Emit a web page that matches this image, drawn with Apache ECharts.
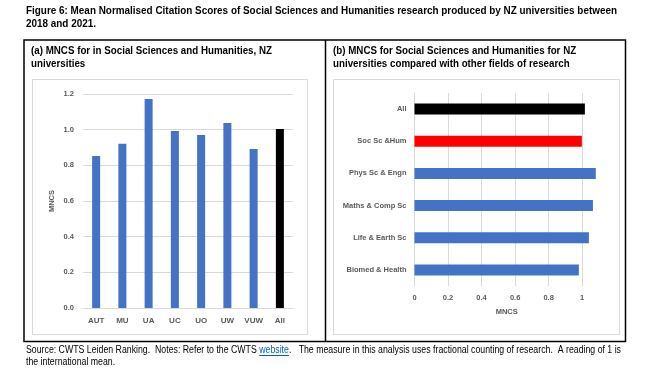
<!DOCTYPE html>
<html><head><meta charset="utf-8">
<script src="https://cdn.jsdelivr.net/npm/echarts@6/dist/echarts.min.js"></script>
<style>html,body{margin:0;padding:0;background:#fff}#c{width:672px;height:378px}</style>
</head><body><div id="c"></div>
<script>
const uniCats = ['AUT', 'MU', 'UA', 'UC', 'UO', 'UW', 'VUW', 'All'];
const uniValues = [0.852, 0.921, 1.172, 0.993, 0.970, 1.037, 0.892, 1.004];
const fieldCats = ['Biomed & Health', 'Life & Earth Sc', 'Maths & Comp Sc', 'Phys Sc & Engn', 'Soc Sc &Hum', 'All'];
const fieldValues = [0.980, 1.040, 1.064, 1.081, 0.998, 1.016];
const titleLines = ['Figure 6: Mean Normalised Citation Scores of Social Sciences and Humanities research produced by NZ universities between', '2018 and 2021.'];
const panelATitle = ['(a) MNCS for in Social Sciences and Humanities, NZ', 'universities'];
const panelBTitle = ['(b) MNCS for Social Sciences and Humanities for NZ', 'universities compared with other fields of research'];
const footer1 = 'Source: CWTS Leiden Ranking.  Notes: Refer to the CWTS ';
const footerLink = 'website';
const footer2 = '.   The measure in this analysis uses fractional counting of research.  A reading of 1 is';
const footer3 = 'the international mean.';

const BLUE = '#4472C4', RED = '#FF0000', BLACK = '#000000';
const SANS = '"Liberation Sans", Arial, sans-serif';
const GRID = '#D9D9D9', LAB = '#595959';

const uniColors = uniCats.map(c => c === 'All' ? BLACK : BLUE);
const fieldColors = fieldCats.map(c => c === 'All' ? BLACK : (c.indexOf('Soc') === 0 ? RED : BLUE));

const ctx = document.createElement('canvas').getContext('2d');
function measure(t, size, weight) {
  ctx.font = (weight || 'normal') + ' ' + size + 'px ' + SANS; return ctx.measureText(t).width;
}
// horizontal compression factors to mimic the condensed font of the original
const sTitle = 591 / measure(titleLines[0], 11, 'bold');
const sPanel = 241 / measure(panelATitle[0], 11, 'bold');
const sFoot = 595 / measure(footer1 + footerLink + footer2, 10, 'normal');
const w1 = measure(footer1, 10) * sFoot, wl = measure(footerLink, 10) * sFoot;

function txt(x, y, s, size, weight, sx, color) {
  return { type: 'text', x: x, y: y, scaleX: sx, silent: true,
    style: { text: s, fontSize: size, fontWeight: weight || 'normal', fontFamily: SANS,
      fill: color || '#000', textVerticalAlign: 'middle', textAlign: 'left' } };
}

const chart = echarts.init(document.getElementById('c'), null, { renderer: 'canvas' });
chart.setOption({
  animation: false,
  backgroundColor: '#fff',
  grid: [
    { left: 83, right: 672 - 293, top: 94, bottom: 378 - 308 },
    { left: 414.5, right: 672 - (414.5 + 1.1 * 167.7), top: 93, bottom: 378 - 286 }
  ],
  xAxis: [
    { gridIndex: 0, type: 'category', data: uniCats,
      axisLine: { lineStyle: { color: GRID } }, axisTick: { show: false },
      axisLabel: { color: LAB, fontSize: 8, fontWeight: 'bold', fontFamily: SANS, margin: 9 } },
    { gridIndex: 1, type: 'value', min: 0, max: 1.1, interval: 0.2,
      name: 'MNCS', nameLocation: 'middle', nameGap: 22,
      nameTextStyle: { color: LAB, fontSize: 7.5, fontWeight: 'bold', fontFamily: SANS },
      axisLine: { show: false }, axisTick: { show: false },
      splitLine: { show: true, showMaxLine: false, lineStyle: { color: GRID } },
      axisLabel: { color: LAB, fontSize: 7.5, fontWeight: 'bold', fontFamily: SANS, margin: 8,
        showMaxLabel: false, formatter: v => (v > 1.05 ? '' : String(Math.round(v * 10) / 10)) } }
  ],
  yAxis: [
    { gridIndex: 0, type: 'value', min: 0, max: 1.2, interval: 0.2,
      name: 'MNCS', nameLocation: 'middle', nameGap: 27, nameRotate: 90,
      nameTextStyle: { color: LAB, fontSize: 7.5, fontWeight: 'bold', fontFamily: SANS },
      axisLine: { show: false }, axisTick: { show: false },
      splitLine: { lineStyle: { color: GRID } },
      axisLabel: { color: LAB, fontSize: 7.5, fontWeight: 'bold', fontFamily: SANS, margin: 9,
        formatter: v => v.toFixed(1) } },
    { gridIndex: 1, type: 'category', data: fieldCats,
      axisLine: { show: true, lineStyle: { color: GRID } }, axisTick: { show: false },
      axisLabel: { color: LAB, fontSize: 7.5, fontWeight: 'bold', fontFamily: SANS, margin: 8 } }
  ],
  series: [
    { type: 'bar', xAxisIndex: 0, yAxisIndex: 0, barWidth: 8,
      data: uniValues.map((v, i) => ({ value: v, itemStyle: { color: uniColors[i] } })) },
    { type: 'bar', xAxisIndex: 1, yAxisIndex: 1, barWidth: 11,
      data: fieldValues.map((v, i) => ({ value: v, itemStyle: { color: fieldColors[i] } })) }
  ],
  graphic: [
    { type: 'rect', silent: true, shape: { x: 24, y: 40, width: 601.5, height: 301.5 },
      style: { fill: 'none', stroke: '#000', lineWidth: 1.5 } },
    { type: 'line', silent: true, shape: { x1: 325.5, y1: 40, x2: 325.5, y2: 341.5 },
      style: { stroke: '#000', lineWidth: 1.5 } },
    { type: 'rect', silent: true, shape: { x: 32.5, y: 79.5, width: 275, height: 255 },
      style: { fill: 'none', stroke: GRID, lineWidth: 1 } },
    { type: 'rect', silent: true, shape: { x: 333.5, y: 79.5, width: 286, height: 255 },
      style: { fill: 'none', stroke: GRID, lineWidth: 1 } },
    txt(26, 11, titleLines[0], 11, 'bold', sTitle),
    txt(26, 24, titleLines[1], 11, 'bold', sTitle),
    txt(31, 51, panelATitle[0], 11, 'bold', sPanel),
    txt(31, 64, panelATitle[1], 11, 'bold', sPanel),
    txt(333, 51, panelBTitle[0], 11, 'bold', sPanel),
    txt(333, 64, panelBTitle[1], 11, 'bold', sPanel),
    txt(26, 350, footer1, 10, 'normal', sFoot),
    txt(26 + w1, 350, footerLink, 10, 'normal', sFoot, '#0563C1'),
    { type: 'line', silent: true, shape: { x1: 26 + w1, y1: 355.5, x2: 26 + w1 + wl, y2: 355.5 },
      style: { stroke: '#0563C1', lineWidth: 1 } },
    txt(26 + w1 + wl, 350, footer2, 10, 'normal', sFoot),
    txt(26, 362, footer3, 10, 'normal', sFoot)
  ]
});
</script></body></html>
